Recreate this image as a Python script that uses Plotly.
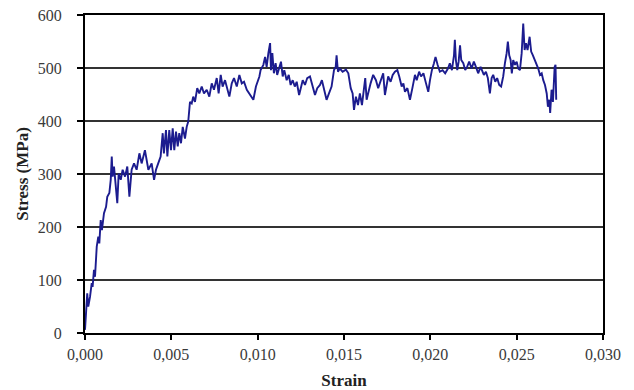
import plotly.graph_objects as go

strain = [0.0, 0.00006, 0.00013, 0.00019, 0.00029, 0.00039, 0.00044, 0.00052, 0.00058, 0.00068,
          0.00077, 0.00083, 0.00091, 0.00098, 0.0011, 0.00122, 0.00129, 0.00141, 0.00149, 0.00155,
          0.0016, 0.00168, 0.0018, 0.00187, 0.00195, 0.00207, 0.00218, 0.00232, 0.00245, 0.00257,
          0.0027, 0.00284, 0.00299, 0.00315, 0.00328, 0.00347, 0.00367, 0.00386, 0.004, 0.00411,
          0.00424, 0.00438, 0.0045, 0.00457, 0.00469, 0.00477, 0.00488, 0.00498, 0.00508, 0.00517,
          0.00527, 0.00537, 0.00546, 0.00556, 0.00566, 0.00579, 0.00589, 0.00598, 0.00608, 0.00618,
          0.00627, 0.00637, 0.0065, 0.00662, 0.00676, 0.00689, 0.00705, 0.0072, 0.00734, 0.00747,
          0.00763, 0.00774, 0.00786, 0.00797, 0.00811, 0.00824, 0.00836, 0.0085, 0.00863, 0.00879,
          0.00894, 0.00908, 0.00921, 0.00937, 0.00952, 0.00966, 0.00975, 0.0099, 0.01004, 0.01010,
          0.01017, 0.01033, 0.01043, 0.01052, 0.01062, 0.01072, 0.01077, 0.01085, 0.01094, 0.01104,
          0.01113, 0.01125, 0.01135, 0.01145, 0.01154, 0.01168, 0.0118, 0.01191, 0.01203, 0.01215,
          0.01226, 0.0124, 0.01249, 0.01261, 0.01274, 0.01287, 0.01303, 0.01316, 0.01332, 0.01345,
          0.01361, 0.01372, 0.01384, 0.01399, 0.01413, 0.01428, 0.01442, 0.01452, 0.01457, 0.01465,
          0.01476, 0.01492, 0.01511, 0.01525, 0.01539, 0.0155, 0.01558, 0.01569, 0.01581, 0.01592,
          0.01604, 0.01615, 0.01623, 0.01631, 0.01643, 0.01654, 0.01669, 0.01685, 0.01698, 0.01712,
          0.01727, 0.01737, 0.01747, 0.01756, 0.0177, 0.01782, 0.01795, 0.01809, 0.0182, 0.01834,
          0.01844, 0.01853, 0.01867, 0.01882, 0.01896, 0.01911, 0.01921, 0.01935, 0.01946, 0.0196,
          0.01975, 0.01988, 0.01998, 0.02009, 0.02021, 0.0203, 0.02042, 0.02055, 0.02071, 0.02086,
          0.02102, 0.02113, 0.02125, 0.02137, 0.02142, 0.02148, 0.02156, 0.02164, 0.02172, 0.02179,
          0.02191, 0.02202, 0.02213, 0.02225, 0.02239, 0.02252, 0.02264, 0.02277, 0.02291, 0.02297,
          0.0231, 0.02322, 0.02333, 0.02345, 0.02355, 0.02364, 0.02376, 0.02387, 0.02399, 0.0241,
          0.02422, 0.02432, 0.02442, 0.02449, 0.02457, 0.02465, 0.02472, 0.0248, 0.0249, 0.025,
          0.02509, 0.02519, 0.02529, 0.02538, 0.02546, 0.02554, 0.02563, 0.02575, 0.02584, 0.02594,
          0.02606, 0.02616, 0.02625, 0.02635, 0.02645, 0.02654, 0.02664, 0.02674, 0.02681, 0.02689,
          0.02694, 0.02702, 0.0271, 0.0272, 0.02725, 0.02729]

stress = [6, 43, 75, 50, 68, 94, 87, 119, 106, 163,
          182, 169, 213, 194, 226, 238, 257, 264, 289, 333,
          295, 314, 276, 245, 301, 289, 308, 295, 314, 257,
          308, 320, 308, 339, 320, 345, 308, 320, 289, 308,
          320, 333, 377, 339, 383, 333, 383, 345, 386, 345,
          380, 352, 377, 358, 389, 367, 389, 399, 436, 433,
          446, 436, 462, 452, 465, 452, 459, 446, 471, 459,
          481, 452, 487, 465, 477, 459, 446, 471, 481, 465,
          487, 471, 474, 459, 452, 446, 440, 465, 477, 484,
          496, 506, 521, 502, 528, 547, 496, 528, 490, 509,
          487, 502, 512, 484, 496, 477, 487, 468, 477, 465,
          474, 449, 462, 477, 468, 481, 484, 468, 449, 462,
          468, 477, 459, 440, 452, 465, 496, 502, 524, 493,
          499, 493, 497, 490, 462, 452, 421, 446, 430, 452,
          430, 465, 481, 440, 459, 471, 487, 477, 462, 477,
          490, 449, 471, 484, 474, 487, 493, 496, 484, 465,
          471, 455, 462, 440, 462, 487, 477, 493, 484, 490,
          471, 455, 477, 496, 509, 521, 506, 493, 496, 490,
          499, 509, 496, 524, 553, 515, 496, 512, 543, 515,
          509, 496, 502, 512, 499, 512, 502, 490, 502, 496,
          487, 493, 481, 452, 481, 487, 474, 481, 468, 465,
          484, 509, 528, 550, 524, 515, 490, 515, 506, 512,
          499, 496, 528, 584, 534, 547, 534, 559, 531, 524,
          515, 506, 499, 487, 490, 477, 468, 452, 427, 440,
          415, 459, 436, 502, 506, 440]

x_tick_vals = [0.0, 0.005, 0.01, 0.015, 0.02, 0.025, 0.03]
x_tick_text = ["0,000", "0,005", "0,010", "0,015", "0,020", "0,025", "0,030"]
y_tick_vals = [0, 100, 200, 300, 400, 500, 600]

fig = go.Figure()
fig.add_trace(go.Scatter(
    x=strain, y=stress, mode="lines",
    line=dict(color="#1c1c8f", width=1.9),
    showlegend=False, hoverinfo="x+y",
))

font_family = "Liberation Serif, Times New Roman, serif"

# page body has an 8px default margin, so the figure is sized 626x382
fig.update_layout(
    width=626, height=382,
    margin=dict(l=77, r=31, t=7, b=57),
    paper_bgcolor="white", plot_bgcolor="white",
    font=dict(family=font_family, color="#333333", size=16),
    xaxis=dict(
        range=[0, 0.030], tickvals=x_tick_vals, ticktext=x_tick_text,
        showline=True, linecolor="black", linewidth=2, mirror=True,
        ticks="outside", ticklen=5, tickcolor="black", tickwidth=1.5,
        showgrid=False, zeroline=False, automargin=False,
        ticklabelstandoff=1, ticklabeloverflow="allow",
        tickfont=dict(family=font_family, size=16, color="#3a3a3a"),
        title=dict(text="<b>Strain</b>", standoff=17,
                   font=dict(family=font_family, size=17, color="#222222")),
    ),
    yaxis=dict(
        range=[0, 600], tickvals=y_tick_vals,
        showline=True, linecolor="black", linewidth=2, mirror=True,
        ticks="outside", ticklen=6, tickcolor="black", tickwidth=1.5,
        showgrid=True, gridcolor="#333333", gridwidth=1.5, zeroline=False,
        automargin=False, ticklabelstandoff=12, ticklabeloverflow="allow",
        tickfont=dict(family=font_family, size=16, color="#3a3a3a"),
        title=dict(text="<b>Stress (MPa)</b>", standoff=5,
                   font=dict(family=font_family, size=17, color="#222222")),
    ),
)

fig.write_html("out.html")
